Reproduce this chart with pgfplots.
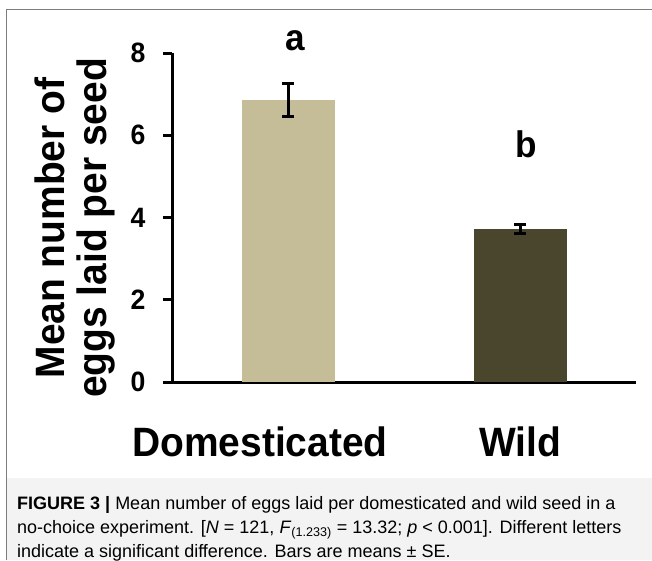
\documentclass[border=0pt]{standalone}
\usepackage{fontspec}
\setmainfont{Liberation Sans}
\newfontfamily\chartfont{Liberation Sans}[FakeStretch=0.95]
\usepackage{pgfplots}
\pgfplotsset{compat=1.18}
\definecolor{domc}{RGB}{196,189,151}
\definecolor{wildc}{RGB}{74,69,45}
\definecolor{capbg}{RGB}{243,243,243}
\definecolor{framec}{RGB}{125,125,125}
\begin{document}
\begin{tikzpicture}[x=1pt,y=1pt]
\useasboundingbox (0,0) rectangle (652,560);
\fill[capbg] (6,0) rectangle (652,82);
\draw[framec, line width=1.5pt] (6.5,0) -- (6.5,550.5) -- (652,550.5);
\begin{axis}[
  at={(172pt,178pt)}, anchor=south west,
  scale only axis, width=464pt, height=329pt,
  xmin=-0.5, xmax=1.5, ymin=0, ymax=8,
  axis x line=bottom, axis y line=left,
  axis line style={-, line width=3pt, black},
  ytick={0,2,4,6,8}, ytick align=outside, major tick length=9pt,
  ytick style={line width=3pt, black},
  xtick={0,1}, xticklabels={{\hspace*{-56pt}Domesticated},{Wild}},
  xtick style={draw=none}, xtick align=inside,
  xticklabel style={font=\chartfont\fontsize{41}{43}\selectfont\bfseries, anchor=base, yshift=-74.5pt},
  yticklabel style={font=\chartfont\fontsize{28}{29}\selectfont\bfseries, xshift=-14pt},
  ylabel={Mean number of\\eggs laid per seed},
  ylabel style={font=\chartfont\fontsize{41}{42}\selectfont\bfseries, align=center,
    at={(axis description cs:-0.21,0.468)}, anchor=center},
  clip=false,
  /pgf/number format/assume math mode=true,
]
\addplot[ybar, bar shift=0pt, bar width=93pt, fill=domc, draw=none,
  error bars/.cd, y dir=both, y explicit,
  error bar style={line width=3pt, black},
  error mark options={rotate=90, line width=3pt, mark size=6pt, black}]
  coordinates {(0,6.86) +- (0,0.40)};
\addplot[ybar, bar shift=0pt, bar width=93pt, fill=wildc, draw=none,
  error bars/.cd, y dir=both, y explicit,
  error bar style={line width=3pt, black},
  error mark options={rotate=90, line width=3pt, mark size=6pt, black}]
  coordinates {(1,3.72) +- (0,0.12)};
\node[font=\chartfont\fontsize{37}{37}\selectfont\bfseries, anchor=base] at (axis cs:0.03,8.07) {a};
\node[font=\chartfont\fontsize{37}{37}\selectfont\bfseries, anchor=base] at (axis cs:1.028,5.45) {b};
\end{axis}
\begin{scope}[every node/.style={anchor=base west, inner sep=0pt, font=\fontsize{18}{20}\selectfont}]
\node at (17,51) {\textbf{FIGURE 3 |} Mean number of eggs laid per domesticated and wild seed in a};
\node at (17,26.5) {no-choice experiment. [\textit{N} = 121, \textit{F}\textsubscript{(1.233)} = 13.32; \textit{p} < 0.001]. Different letters};
\node at (17,2.5) {indicate a significant difference. Bars are means ± SE.};
\end{scope}
\end{tikzpicture}
\end{document}
